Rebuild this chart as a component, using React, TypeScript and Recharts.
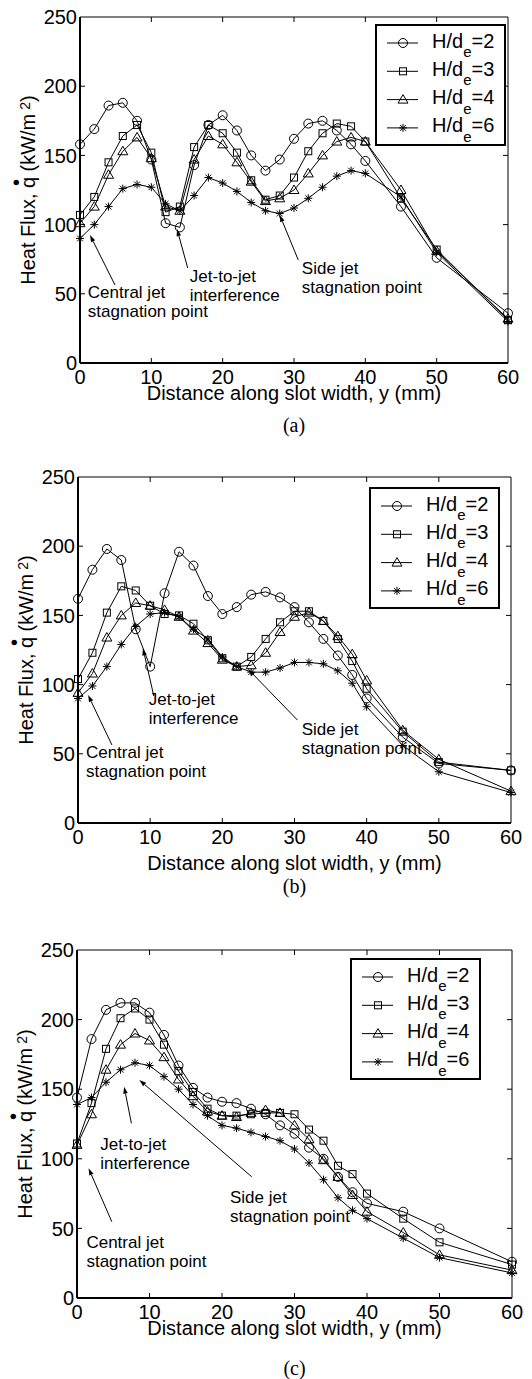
import React from "react";
import {
  Legend,
  Line,
  LineChart,
  ReferenceDot,
  ReferenceLine,
  XAxis,
  YAxis,
} from "recharts";

// Distance along slot width (mm) – same stations for every curve.
const DISTANCE_MM = [0, 2, 4, 6, 8, 10, 12, 14, 16, 18, 20, 22, 24, 26, 28, 30, 32, 34, 36, 38, 40, 45, 50, 60];
const X_TICKS = [0, 10, 20, 30, 40, 50, 60];
const Y_TICKS = [0, 50, 100, 150, 200, 250];
const HDE = ["2", "3", "4", "6"];

// (a)
const A_HDE2 = [158, 169, 186, 188, 175, 147, 101, 98, 143, 172, 179, 168, 150, 139, 147, 162, 173, 175, 168, 158, 146, 113, 76, 36];
const A_HDE3 = [107, 120, 145, 164, 172, 152, 109, 113, 156, 172, 166, 152, 132, 118, 121, 134, 153, 166, 173, 171, 160, 119, 82, 31];
const A_HDE4 = [101, 113, 136, 153, 163, 148, 113, 110, 147, 164, 158, 145, 131, 117, 119, 125, 137, 150, 160, 163, 160, 125, 81, 32];
const A_HDE6 = [90, 100, 113, 126, 129, 127, 115, 110, 121, 134, 130, 124, 116, 110, 108, 112, 119, 127, 135, 139, 137, 120, 80, 30];

// (b)
const B_HDE2 = [162, 183, 198, 190, 140, 113, 166, 196, 186, 164, 151, 156, 165, 167, 163, 156, 145, 133, 121, 107, 90, 62, 43, 38];
const B_HDE3 = [104, 123, 152, 171, 168, 157, 151, 150, 144, 132, 119, 113, 120, 133, 145, 153, 153, 146, 133, 117, 97, 66, 44, 38];
const B_HDE4 = [94, 108, 134, 150, 159, 157, 154, 149, 139, 130, 118, 113, 114, 123, 138, 149, 152, 146, 135, 122, 103, 67, 46, 23];
const B_HDE6 = [90, 99, 113, 129, 142, 151, 152, 149, 140, 133, 120, 113, 109, 109, 112, 116, 116, 115, 110, 101, 84, 56, 37, 22];

// (c)
const C_HDE2 = [144, 186, 207, 212, 212, 205, 189, 167, 151, 144, 141, 140, 136, 132, 124, 118, 108, 100, 87, 76, 68, 62, 50, 26];
const C_HDE3 = [111, 140, 179, 201, 208, 200, 182, 163, 148, 136, 131, 131, 132, 133, 133, 132, 121, 113, 95, 89, 75, 57, 40, 24];
const C_HDE4 = [110, 132, 164, 182, 190, 185, 173, 157, 145, 134, 131, 130, 133, 135, 133, 124, 114, 99, 87, 74, 62, 47, 31, 20];
const C_HDE6 = [139, 144, 155, 164, 169, 167, 159, 150, 139, 131, 124, 122, 119, 116, 113, 107, 97, 85, 72, 63, 57, 43, 29, 18];

const NOTE_TEXT = [
  ["Central jet", "stagnation point"],
  ["Jet-to-jet", "interference"],
  ["Side jet", "stagnation point"],
];

type Kind = "circle" | "square" | "triangle" | "star";
const KINDS: Kind[] = ["circle", "square", "triangle", "star"];
const FONT = '"Liberation Sans", Arial, Helvetica, sans-serif';

function Marker({ kind, cx, cy }: { kind: Kind; cx: number; cy: number }) {
  const s = { fill: "none", stroke: "#000", strokeWidth: 1 };
  if (kind === "circle") return <circle cx={cx} cy={cy} r={4.5} {...s} />;
  if (kind === "square") return <rect x={cx - 3.5} y={cy - 3.5} width={7} height={7} {...s} />;
  if (kind === "triangle")
    return <polygon points={`${cx},${cy - 5} ${cx - 5},${cy + 3.5} ${cx + 5},${cy + 3.5}`} {...s} />;
  const r = 4;
  const d = 2.9;
  return (
    <path
      d={`M${cx - r},${cy}H${cx + r}M${cx},${cy - r}V${cy + r}M${cx - d},${cy - d}L${cx + d},${cy + d}M${cx - d},${cy + d}L${cx + d},${cy - d}`}
      {...s}
    />
  );
}

// arrow drawn from segment start towards the head at its end
function Arrow(p: any) {
  const { x1, y1, x2, y2 } = p;
  const ang = Math.atan2(y2 - y1, x2 - x1);
  const len = 7;
  const half = 2.3;
  const bx = x2 - len * Math.cos(ang);
  const by = y2 - len * Math.sin(ang);
  const px = -Math.sin(ang) * half;
  const py = Math.cos(ang) * half;
  return (
    <g>
      <line x1={x1} y1={y1} x2={bx} y2={by} stroke="#000" strokeWidth={1} />
      <polygon points={`${x2},${y2} ${bx + px},${by + py} ${bx - px},${by - py}`} fill="#000" />
    </g>
  );
}

// inward tick marks at both ends of a vertical / horizontal reference line
function TickX(p: any) {
  const top = Math.min(p.y1, p.y2);
  const bot = Math.max(p.y1, p.y2);
  return <path d={`M${p.x1},${top}v5M${p.x1},${bot}v-5`} stroke="#000" strokeWidth={1} fill="none" />;
}
function TickY(p: any) {
  const l = Math.min(p.x1, p.x2);
  const r = Math.max(p.x1, p.x2);
  return <path d={`M${l},${p.y1}h5M${r},${p.y1}h-5`} stroke="#000" strokeWidth={1} fill="none" />;
}

function Note({ cx, cy, lines }: { cx: number; cy: number; lines: string[] }) {
  return (
    <text x={cx} y={cy} fontSize={17} fill="#000">
      {lines.map((l, i) => (
        <tspan key={i} x={cx} dy={i === 0 ? 0 : 19}>
          {l}
        </tspan>
      ))}
    </text>
  );
}

function YTitle({ viewBox }: any) {
  const bx = viewBox.x + viewBox.width - 45;
  const cy = viewBox.y + viewBox.height / 2;
  return (
    <text x={bx} y={cy} transform={`rotate(-90 ${bx} ${cy})`} textAnchor="middle" fontSize={20} fill="#000">
      Heat Flux, q
      <tspan dx="-0.46em" dy={-12}>
        •
      </tspan>
      <tspan dx="0.1em" dy={12}>
        {" (kW/m"}
      </tspan>
      <tspan dx={4} dy={-5} fontSize={14}>
        2
      </tspan>
      <tspan dy={5}>)</tspan>
    </text>
  );
}

function XTitle({ viewBox, titleGap, captionGap, caption }: any) {
  const cx = viewBox.x + viewBox.width / 2;
  return (
    <g>
      <text x={cx} y={viewBox.y + titleGap} textAnchor="middle" fontSize={20} fill="#000">
        Distance along slot width, y (mm)
      </text>
      <text
        x={cx}
        y={viewBox.y + captionGap}
        textAnchor="middle"
        fontSize={20}
        fill="#000"
        fontFamily='"Liberation Serif", "Times New Roman", serif'
      >
        ({caption})
      </text>
    </g>
  );
}

function LegendBox({ payload }: any) {
  const items: any[] = (payload || []).filter((it: any) => HDE.includes(String(it.value)));
  const rows = items.length ? items : HDE.map((v) => ({ value: v }));
  return (
    <div style={{ width: 131, height: 122, border: "2px solid #000", boxSizing: "border-box", background: "#fff" }}>
      <svg width={127} height={118} style={{ display: "block", fontFamily: FONT }}>
        {rows.map((it, i) => {
          const kind = KINDS[HDE.indexOf(String(it.value))];
          const y = 17 + i * 28.3;
          return (
            <g key={String(it.value)}>
              <line x1={10} x2={41} y1={y} y2={y} stroke="#000" strokeWidth={1} />
              <Marker kind={kind} cx={26} cy={y} />
              <text x={55} y={y + 4.5} fontSize={20} fill="#000">
                H/d
                <tspan dy={9.5} fontSize={15}>
                  e
                </tspan>
                <tspan dy={-9.5}>={it.value}</tspan>
              </text>
            </g>
          );
        })}
      </svg>
    </div>
  );
}

type PanelProps = {
  top: number;
  height: number;
  plotTop: number;
  plotBottom: number;
  plotLeft: number;
  plotRight: number;
  series: number[][];
  notes: number[][];
  arrows: number[][];
  legendAt: [number, number];
  titleGap: number;
  captionGap: number;
  caption: string;
};

function Panel(p: PanelProps) {
  const data = DISTANCE_MM.map((d, i) => ({
    d,
    h2: p.series[0][i],
    h3: p.series[1][i],
    h4: p.series[2][i],
    h6: p.series[3][i],
  }));
  const xAxisH = 60;
  const plotH = p.plotBottom - p.plotTop;
  const mTop = p.plotTop - p.top;
  const mBottom = p.height - mTop - plotH - xAxisH;
  const tickStyle = { fill: "#000", fontSize: 20 };
  return (
    <div style={{ position: "absolute", left: 0, top: p.top }}>
      <LineChart
        width={532}
        height={p.height}
        data={data}
        margin={{ top: mTop, right: 532 - p.plotRight, bottom: mBottom, left: 0 }}
      >
        <XAxis
          dataKey="d"
          type="number"
          domain={[0, 60]}
          ticks={X_TICKS}
          height={xAxisH}
          tick={tickStyle}
          tickSize={-5}
          tickMargin={12}
          axisLine={{ stroke: "#000", strokeWidth: 2 }}
          tickLine={false}
          label={(lp: any) => (
            <XTitle viewBox={lp.viewBox} titleGap={p.titleGap} captionGap={p.captionGap} caption={p.caption} />
          )}
        />
        <YAxis
          type="number"
          domain={[0, 250]}
          ticks={Y_TICKS}
          width={p.plotLeft}
          tick={tickStyle}
          tickSize={-5}
          tickMargin={8}
          axisLine={{ stroke: "#000", strokeWidth: 2 }}
          tickLine={false}
          label={(lp: any) => <YTitle viewBox={lp.viewBox} />}
        />
        {/* box frame: top and right edges */}
        <ReferenceLine y={250} stroke="#000" strokeWidth={1} ifOverflow="visible" />
        <ReferenceLine x={60} stroke="#000" strokeWidth={1} ifOverflow="visible" />
        {X_TICKS.slice(1, -1).map((t) => (
          <ReferenceLine key={`tx-${t}`} x={t} shape={TickX} ifOverflow="visible" />
        ))}
        {Y_TICKS.slice(1, -1).map((t) => (
          <ReferenceLine key={`ty-${t}`} y={t} shape={TickY} ifOverflow="visible" />
        ))}
        {["h6", "h4", "h3", "h2"].map((key) => {
          const idx = HDE.indexOf(key.slice(1));
          const kind = KINDS[idx];
          return (
            <Line
              key={key}
              type="linear"
              dataKey={key}
              name={HDE[idx]}
              stroke="#000"
              strokeWidth={1}
              isAnimationActive={false}
              dot={(dp: any) => <Marker key={`${key}-${dp.index}`} kind={kind} cx={dp.cx} cy={dp.cy} />}
              activeDot={false}
            />
          );
        })}
        {p.arrows.map((a, i) => (
          <ReferenceLine
            key={`arrow-${i}`}
            segment={[
              { x: a[0], y: a[1] },
              { x: a[2], y: a[3] },
            ]}
            shape={Arrow}
            ifOverflow="visible"
          />
        ))}
        {p.notes.map((n, i) => (
          <ReferenceDot
            key={`note-${i}`}
            x={n[0]}
            y={n[1]}
            r={0}
            ifOverflow="visible"
            shape={(sp: any) => <Note cx={sp.cx} cy={sp.cy} lines={NOTE_TEXT[i]} />}
          />
        ))}
        <Legend
          layout="horizontal"
          verticalAlign="middle"
          align="center"
          wrapperStyle={{ position: "absolute", left: p.legendAt[0], top: p.legendAt[1], width: "auto", height: "auto" }}
          content={(lp: any) => <LegendBox payload={lp.payload} />}
        />
      </LineChart>
    </div>
  );
}

export default function App() {
  return (
    <div
      style={{
        position: "absolute",
        left: 0,
        top: 0,
        width: 532,
        height: 1379,
        background: "#fff",
        fontFamily: FONT,
      }}
    >
      <Panel
        top={0}
        height={448}
        plotTop={17}
        plotBottom={363}
        plotLeft={80}
        plotRight={508}
        series={[A_HDE2, A_HDE3, A_HDE4, A_HDE6]}
        notes={[
          [1.1, 47],
          [15.4, 58.7],
          [31.1, 64.3],
        ]}
        arrows={[
          [4.9, 56.4, 1.4, 92.5],
          [15.1, 68.6, 13.6, 96.8],
          [30.6, 74.4, 28, 107],
        ]}
        legendAt={[375, 24]}
        titleGap={37}
        captionGap={69}
        caption="a"
      />
      <Panel
        top={450}
        height={450}
        plotTop={477}
        plotBottom={823}
        plotLeft={78}
        plotRight={511}
        series={[B_HDE2, B_HDE3, B_HDE4, B_HDE6]}
        notes={[
          [1.1, 46.7],
          [9.8, 85.3],
          [31.0, 63.6],
        ]}
        arrows={[
          [4.7, 56.4, 1.4, 92.5],
          [10.5, 91.8, 9.0, 126.2],
          [30.4, 74.4, 23.6, 111],
        ]}
        legendAt={[369, 37]}
        titleGap={47}
        captionGap={70}
        caption="b"
      />
      <Panel
        top={925}
        height={454}
        plotTop={950}
        plotBottom={1298}
        plotLeft={77}
        plotRight={512}
        series={[C_HDE2, C_HDE3, C_HDE4, C_HDE6]}
        notes={[
          [1.3, 35.7],
          [3.2, 106.3],
          [21.1, 68],
        ]}
        arrows={[
          [4.8, 54.8, 1.6, 93.2],
          [7.5, 125.5, 6.5, 151.8],
          [24.1, 87.1, 8.6, 156.6],
        ]}
        legendAt={[350, 33]}
        titleGap={37}
        captionGap={77}
        caption="c"
      />
    </div>
  );
}
